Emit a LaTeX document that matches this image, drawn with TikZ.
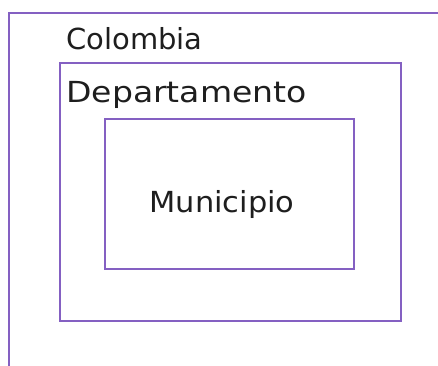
\documentclass[tikz,border=0pt]{standalone}
\usepackage{fontspec}
\newfontfamily\handfont{DejaVu Sans}
\definecolor{zone}{RGB}{132,96,194}
\definecolor{ink}{RGB}{30,30,30}
\begin{document}
\begin{tikzpicture}[x=1pt,y=-1pt,
        region/.style={draw=zone,line width=2.2pt,inner sep=0pt},
        tag/.style={text=ink,font=\handfont\fontsize{29}{30}\selectfont,inner sep=0pt}]
        \useasboundingbox (0,0) rectangle (438,365);
        \clip (0,0) rectangle (438,365);
        \node[region,anchor=north west,minimum width=480pt,minimum height=420pt] (pais) at (8,12) {};
        \node[region,anchor=north west,minimum width=341pt,minimum height=258pt] (dpto) at (59,62) {};
        \node[region,anchor=north west,minimum width=249pt,minimum height=150pt] (mpio) at (104,118) {};
        \node[tag,anchor=base west] (lblpais) at (66,49) {Colombia};
        \node[tag,anchor=base west,xscale=1.14] (lbldpto) at (66,102) {Departamento};
        \node[tag,anchor=base,xscale=1.05] (lblmpio) at (222,212) {Municipio};
    \end{tikzpicture}
\end{document}
